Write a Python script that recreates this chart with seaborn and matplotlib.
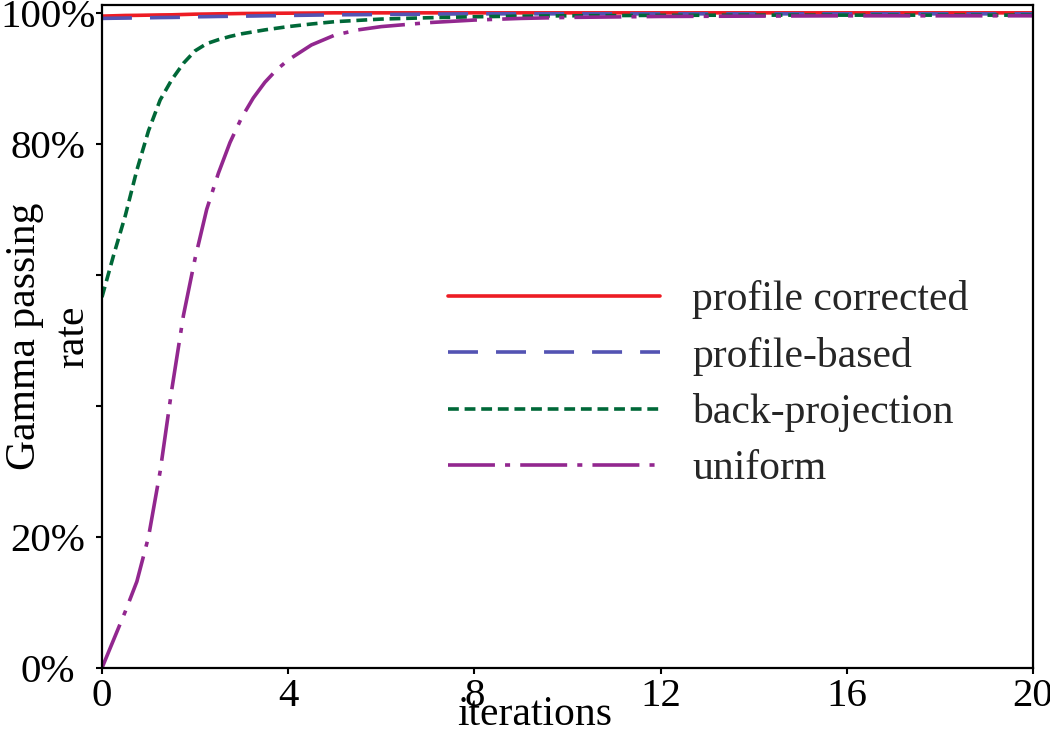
import numpy as np
import pandas as pd
import matplotlib
matplotlib.use("Agg")
import matplotlib.pyplot as plt
import seaborn as sns

sns.set_style("ticks")
plt.rcParams['font.family'] = ['Liberation Serif', 'DejaVu Serif']

# values (fractional iterations where the curves bend)
iterations = [0, 0.25, 0.5, 0.75, 1, 1.25, 1.5, 1.75, 2, 2.25, 2.5, 2.75, 3, 3.25, 3.5, 3.75,
              4, 4.5, 5, 5.5, 6, 7, 8, 9, 10, 12, 14, 16, 18, 20]
profile_corrected = [99.5, 99.55, 99.6, 99.62, 99.65, 99.68, 99.7, 99.75, 99.8, 99.82, 99.85, 99.87, 99.9, 99.91,
                     99.92, 99.94, 99.95, 99.97, 100, 100, 100, 100, 100, 100, 100, 100, 100, 100, 100, 100]
profile_based = [99.15, 99.18, 99.2, 99.23, 99.25, 99.28, 99.3, 99.33, 99.4, 99.42, 99.45, 99.47, 99.5, 99.52,
                 99.55, 99.57, 99.6, 99.65, 99.7, 99.72, 99.75, 99.8, 99.85, 99.85, 99.85, 99.85, 99.85,
                 99.85, 99.85, 99.85]
back_projection = [56.6, 63.0, 69.0, 76.0, 82.0, 86.7, 89.8, 92.3, 94.2, 95.3, 95.9, 96.4, 96.8, 97.1,
                   97.4, 97.65, 97.9, 98.3, 98.65, 98.85, 99.05, 99.25, 99.4, 99.5, 99.55, 99.62, 99.65,
                   99.65, 99.65, 99.65]
uniform = [0, 4.3, 8.6, 13.2, 20.0, 30.0, 42.5, 53.8, 62.5, 70.0, 75.5, 80.2, 84.0, 87.0, 89.4, 91.3,
           92.8, 95.1, 96.6, 97.4, 97.9, 98.5, 98.9, 99.15, 99.3, 99.45, 99.5, 99.55, 99.55, 99.55]

methods = ['profile corrected', 'profile-based', 'back-projection', 'uniform']
colors = {'profile corrected': '#ED1C24', 'profile-based': '#5353B3',
          'back-projection': '#006838', 'uniform': '#92278F'}
dashes = {'profile corrected': '', 'profile-based': (8.3, 5),
          'back-projection': (3, 1.6), 'uniform': (13, 2.8, 1.4, 2.8)}

df = pd.concat([
    pd.DataFrame({'iterations': iterations, 'rate': vals, 'method': m})
    for m, vals in zip(methods, [profile_corrected, profile_based, back_projection, uniform])
])

fig = plt.figure(figsize=(10.5, 7.33), dpi=100)
ax = fig.add_axes([0.0971, 0.0887, 0.8867, 0.9045])
sns.lineplot(data=df, x='iterations', y='rate', hue='method', style='method',
             hue_order=methods, style_order=methods, palette=colors, dashes=dashes,
             linewidth=2.6, ax=ax)

ax.set_xlim(0, 20)
ax.set_ylim(0, 101.2)
ax.set_xticks([0, 4, 8, 12, 16, 20])
ax.set_yticks([0, 20, 40, 60, 80, 100])
ax.set_yticklabels(['0%', '20%', '', '', '80%', '100%'], ha='center')
ax.tick_params(axis='both', labelsize=29.5, length=4, width=1.5, direction='out', color='black',
               labelcolor='black')
ax.tick_params(axis='y', pad=35)
ax.tick_params(axis='x', pad=3)
for s in ax.spines.values():
    s.set_visible(True)
    s.set_linewidth(1.6)
    s.set_color('black')

ax.set_ylabel('Gamma passing\nrate', fontsize=30, linespacing=1.3, color='black')
ax.yaxis.label.set_va('center')
ax.yaxis.set_label_coords(-0.057, 0.5)
ax.set_xlabel('iterations', fontsize=30, color='black')
ax.xaxis.set_label_coords(0.465, -0.041)

sns.move_legend(ax, loc='upper left', bbox_to_anchor=(0.372, 0.585), frameon=False, title=None,
                fontsize=30, handlelength=5.08, handletextpad=0.77, labelspacing=0.42,
                borderpad=0, borderaxespad=0)

fig.savefig('out.png', dpi=100)
